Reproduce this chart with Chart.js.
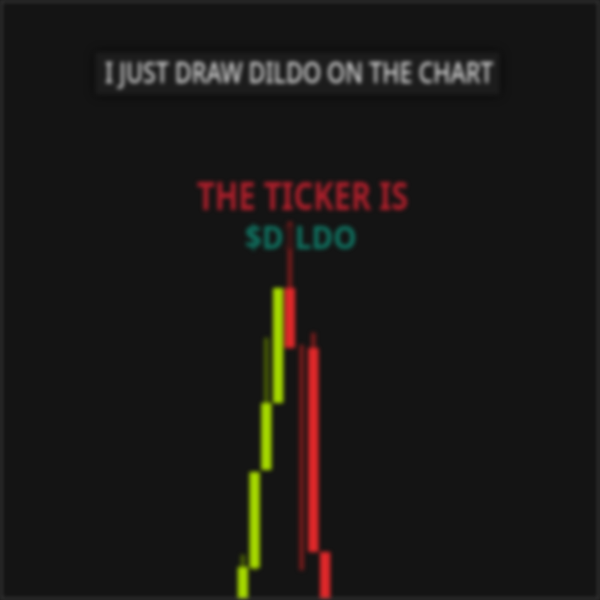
<!DOCTYPE html>
<html>
<head>
<meta charset="utf-8">
<script src="https://cdn.jsdelivr.net/npm/chart.js@4.4.1/dist/chart.umd.min.js"></script>
<style>
  html, body { margin: 0; padding: 0; background: #141414; }
  #wrap { position: relative; width: 600px; height: 600px; overflow: hidden; filter: blur(2px); }
  #frame { position: absolute; left: 0; top: 0; width: 596px; height: 596px; border: 2px solid #444; pointer-events: none; }
  canvas { position: absolute; left: 0; top: 0; }
  .lbl { position: absolute; white-space: nowrap; line-height: 1; transform-origin: left top; font-family: "Noto Sans", sans-serif; }
  #box { position: absolute; left: 95px; top: 52px; width: 405px; height: 43px; background: #1c1c1c; border-radius: 4px; box-shadow: 0 0 8px rgba(0,0,0,0.9); }
</style>
</head>
<body>
<div id="wrap">
  <canvas id="myChart" width="600" height="600"></canvas>
  <div id="box"></div>
  <div class="lbl" data-x="105" data-w="388" style="top:58px;font-size:28px;font-weight:500;color:#dcdcdc;">I JUST DRAW DILDO ON THE CHART</div>
  <div class="lbl" data-x="197" data-w="211" style="top:175px;font-size:39px;font-weight:700;color:#ad1f2b;">THE TICKER IS</div>
  <div class="lbl" data-x="245" data-w="112" style="top:220px;font-size:33px;font-weight:700;color:#0f7361;">$D<span style="color:#3a1616;">I</span>LDO</div>
  <div id="frame"></div>
</div>
<script>
'use strict';

// candles, left to right (price units, bottom of picture = 0)
let labels = ['c1', 'c2', 'c3', 'c4', 'c5', 'c6', 'c7', 'c8'];
let opens  = [-0.2, 0.32, 1.30, 1.97, 3.12, null, 2.52, 0.48];
let closes = [0.33, 1.28, 1.97, 3.12, 2.52, null, 0.48, -0.2];
let highs  = [0.45, 1.28, 2.62, 3.12, 3.78, 2.55, 2.67, 0.48];
let lows   = [-0.2, 0.30, 1.30, 1.97, 2.52, 0.30, 0.48, -0.2];

const UP = '#a6d900', DOWN = '#e0282a';
const UP_WICK = '#4b6104', DOWN_WICK = '#7a1c1c';

let bodies = labels.map((l, i) => opens[i] == null ? null : [opens[i], closes[i]]);
let wicks = labels.map((l, i) => [lows[i], highs[i]]);
let isUp = labels.map((l, i) => opens[i] == null ? false : closes[i] >= opens[i]);

// fit the overlay texts to their widths
document.querySelectorAll('.lbl').forEach(el => {
	el.style.left = el.dataset.x + 'px';
	let w = el.offsetWidth;
	el.style.transform = 'scaleX(' + (el.dataset.w / w) + ')';
});

let ctx = document.getElementById('myChart');

let myChart = new Chart(ctx, {
	type: 'bar',
	data: {
		labels: labels,
		datasets: [{
			label: 'body',
			data: bodies,
			backgroundColor: isUp.map(u => u ? UP : DOWN),
			borderWidth: 0,
			borderSkipped: false,
			barPercentage: 0.88,
			categoryPercentage: 1,
			grouped: false,
			order: 1
		}, {
			label: 'wick',
			data: wicks,
			backgroundColor: isUp.map(u => u ? UP_WICK : DOWN_WICK),
			borderWidth: 0,
			barThickness: 4,
			grouped: false,
			order: 2
		}]
	},
	options: {
		responsive: false,
		animation: false,
		layout: { padding: { left: 237, right: 269, top: 0, bottom: 0 } },
		plugins: { legend: { display: false }, tooltip: { enabled: false } },
		scales: {
			x: { display: false, grid: { display: false } },
			y: { display: false, min: 0, max: 6, grid: { display: false } }
		}
	}
});
</script>
</body>
</html>
